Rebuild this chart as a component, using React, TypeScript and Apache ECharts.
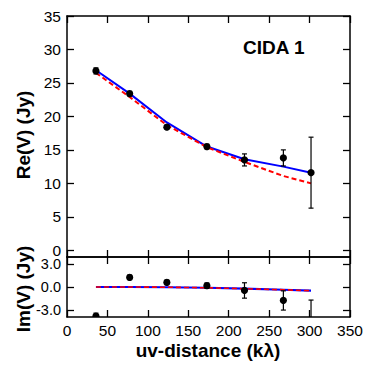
import React, { useEffect, useRef } from "react";
import * as echarts from "echarts";

const uvDist = [35.8, 77.5, 123.5, 173, 219.5, 267.6, 301.8];
const reV = [26.8, 23.4, 18.4, 15.5, 13.5, 13.8, 11.6];
const reErr = [0.45, 0.35, 0.3, 0.35, 0.9, 1.2, 5.3];
const imV = [-3.8, 1.25, 0.6, 0.17, -0.45, -1.75, -7.0];
const imErr = [0.4, 0.3, 0.3, 0.35, 1.0, 1.25, 5.3];
const modelBlueRe = [26.9, 23.4, 19.1, 15.5, 13.6, 12.5, 11.6];
const modelRedRe = [26.5, 22.9, 18.7, 15.4, 13.2, 11.1, 10.0];
const modelBlueIm = [0.0, 0.0, -0.03, -0.1, -0.22, -0.36, -0.48];
const modelRedIm = [0.0, 0.0, -0.03, -0.1, -0.22, -0.36, -0.48];
const xTicks = [0, 50, 100, 150, 200, 250, 300, 350];
const reTicks = [0, 5, 10, 15, 20, 25, 30, 35];
const imTicks = [-3, 0, 3];

const FONT = "'Liberation Sans', Arial, sans-serif";

const pair = (xs: number[], ys: number[]) => xs.map((x, i) => [x, ys[i]]);
const triple = (xs: number[], ys: number[], es: number[]) =>
  xs.map((x, i) => [x, ys[i], es[i]]);

const renderErr = (params: any, api: any) => {
  const x = api.value(0);
  const y = api.value(1);
  const e = api.value(2);
  const c = api.coord([x, y]);
  const lo = api.coord([x, y - e]);
  const hi = api.coord([x, y + e]);
  const cap = 2.5;
  const st = { stroke: "#000", lineWidth: 1.2 };
  return {
    type: "group",
    children: [
      { type: "line", shape: { x1: c[0], y1: lo[1], x2: c[0], y2: hi[1] }, style: st },
      { type: "line", shape: { x1: c[0] - cap, y1: lo[1], x2: c[0] + cap, y2: lo[1] }, style: st },
      { type: "line", shape: { x1: c[0] - cap, y1: hi[1], x2: c[0] + cap, y2: hi[1] }, style: st },
      { type: "circle", shape: { cx: c[0], cy: c[1], r: 3.6 }, style: { fill: "#000" } },
    ],
  };
};

export default function App() {
  const ref = useRef<HTMLDivElement>(null);
  useEffect(() => {
    if (!ref.current) return;
    const chart = echarts.init(ref.current, null, { renderer: "svg" });
    const axisLine = { show: true, onZero: false, lineStyle: { color: "#000", width: 1.5 } };
    const tick = (vals: number[]) => ({
      show: true,
      inside: true,
      length: 7,
      lineStyle: { color: "#000", width: 1.3 },
      customValues: vals,
    });
    const xBase = (grid: number, pos: string, labels: boolean) => ({
      type: "value",
      gridIndex: grid,
      position: pos,
      min: 0,
      max: 350,
      interval: 50,
      axisLine,
      axisTick: tick(xTicks),
      splitLine: { show: false },
      axisLabel: labels
        ? {
            show: true,
            customValues: xTicks,
            color: "#000",
            fontSize: 15.5,
            fontFamily: FONT,
            margin: 5,
            showMinLabel: true,
            showMaxLabel: true,
          }
        : { show: false },
    });
    const yBase = (grid: number, pos: string, labels: boolean, min: number, max: number, vals: number[], fs: number, fmt?: (v: number) => string) => ({
      type: "value",
      gridIndex: grid,
      position: pos,
      min,
      max,
      axisLine,
      axisTick: tick(vals),
      splitLine: { show: false },
      axisLabel: labels
        ? {
            show: true,
            customValues: vals,
            color: "#000",
            fontSize: fs,
            lineHeight: 12,
            fontFamily: FONT,
            margin: 6,
            formatter: fmt,
          }
        : { show: false },
    });
    chart.setOption({
      animation: false,
      backgroundColor: "#fff",
      grid: [
        { left: 67, right: 21, top: 16, height: 241 },
        { left: 67, right: 21, top: 257, height: 60 },
      ],
      xAxis: [
        xBase(0, "bottom", false),
        xBase(0, "top", false),
        xBase(1, "bottom", true),
        xBase(1, "top", false),
      ],
      yAxis: [
        yBase(0, "left", true, -1, 35, reTicks, 15.5),
        yBase(0, "right", false, -1, 35, reTicks, 15.5),
        yBase(1, "left", true, -3.9, 3.9, imTicks, 14.5, (v: number) => v.toFixed(1)),
        yBase(1, "right", false, -3.9, 3.9, imTicks, 14.5),
      ],
      series: [
        {
          type: "line",
          xAxisIndex: 0,
          yAxisIndex: 0,
          data: pair(uvDist, modelBlueRe),
          symbol: "none",
          lineStyle: { color: "#0000ff", width: 2 },
        },
        {
          type: "line",
          xAxisIndex: 0,
          yAxisIndex: 0,
          data: pair(uvDist, modelRedRe),
          symbol: "none",
          lineStyle: { color: "#ff0000", width: 2, type: [5, 3] },
        },
        {
          type: "line",
          xAxisIndex: 2,
          yAxisIndex: 2,
          data: pair(uvDist, modelBlueIm),
          symbol: "none",
          lineStyle: { color: "#0000ff", width: 2.2 },
        },
        {
          type: "line",
          xAxisIndex: 2,
          yAxisIndex: 2,
          data: pair(uvDist, modelRedIm),
          symbol: "none",
          lineStyle: { color: "#ff0000", width: 1.6, type: [5, 3] },
        },
        {
          type: "custom",
          xAxisIndex: 0,
          yAxisIndex: 0,
          clip: true,
          data: triple(uvDist, reV, reErr),
          encode: { x: 0, y: 1 },
          renderItem: renderErr,
          z: 5,
        },
        {
          type: "custom",
          xAxisIndex: 2,
          yAxisIndex: 2,
          clip: true,
          data: triple(uvDist, imV, imErr),
          encode: { x: 0, y: 1 },
          renderItem: renderErr,
          z: 5,
        },
      ],
      graphic: [
        {
          type: "text",
          x: 243,
          y: 47,
          style: {
            text: "CIDA 1",
            fontSize: 19,
            fontWeight: "bold",
            fontFamily: FONT,
            fill: "#000",
            textAlign: "left",
            textVerticalAlign: "middle",
          },
        },
        {
          type: "text",
          x: 23,
          y: 135,
          rotation: Math.PI / 2,
          style: {
            text: "Re(V) (Jy)",
            fontSize: 19,
            fontWeight: "bold",
            fontFamily: FONT,
            fill: "#000",
            textAlign: "center",
            textVerticalAlign: "middle",
          },
        },
        {
          type: "text",
          x: 23,
          y: 289,
          rotation: Math.PI / 2,
          style: {
            text: "Im(V) (Jy)",
            fontSize: 19,
            fontWeight: "bold",
            fontFamily: FONT,
            fill: "#000",
            textAlign: "center",
            textVerticalAlign: "middle",
          },
        },
        {
          type: "text",
          x: 208,
          y: 350,
          style: {
            text: "uv-distance (kλ)",
            fontSize: 19,
            fontWeight: "bold",
            fontFamily: FONT,
            fill: "#000",
            textAlign: "center",
            textVerticalAlign: "middle",
          },
        },
      ],
    });
    return () => chart.dispose();
  }, []);
  return (
    <div
      ref={ref}
      style={{ position: "fixed", left: 0, top: 0, width: 371, height: 371, background: "#fff" }}
    />
  );
}
